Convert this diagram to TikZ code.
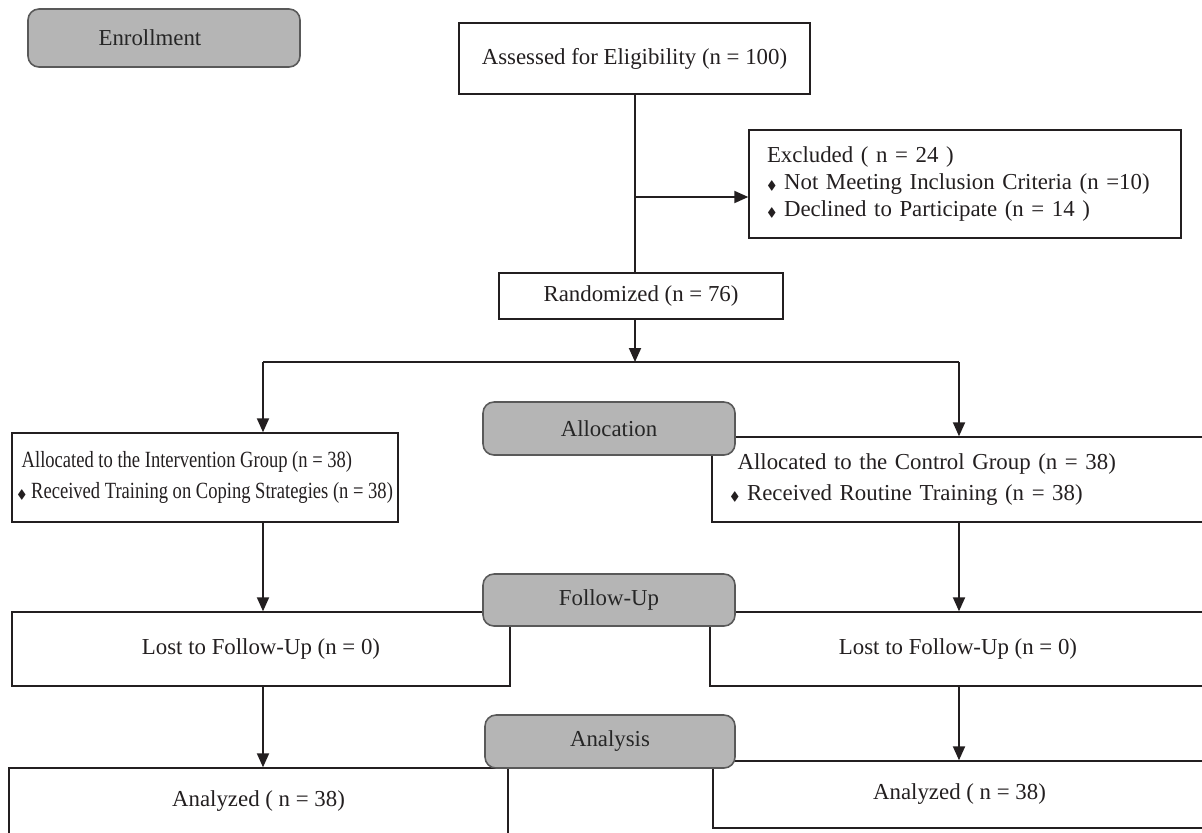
\documentclass[tikz,border=0pt]{standalone}
\usepackage{amsmath}
\usepackage{amssymb}
\usepackage{fontspec}
\setmainfont{Liberation Serif}
\newfontfamily\narrowserif[FakeStretch=0.8]{Liberation Serif}
\usepackage{tikz}
\usetikzlibrary{arrows.meta}
\definecolor{ink}{HTML}{231F20}
\definecolor{stagegray}{HTML}{B5B5B5}
\newcommand{\dia}{{\scriptsize$\blacklozenge$}\ }

\begin{document}
\begin{tikzpicture}[x=0.02cm,y=-0.02cm,
  every node/.style={font=\fontsize{13}{15.5}\selectfont,text=ink},
  sz/.style 2 args={minimum width=#1*0.02cm,minimum height=#2*0.02cm},
  box/.style={draw=ink,line width=0.8pt,fill=white,inner sep=0pt},
  lbox/.style={box,align=left,text width=#1*0.02cm,inner xsep=0.36cm},
  stage/.style={draw=black!65,line width=0.9pt,fill=stagegray,rounded corners=0.22cm,inner sep=0pt,text=black!85},
  arr/.style={draw=ink,line width=1.1pt,-{Triangle[length=0.28cm,width=0.24cm]}},
  ln/.style={draw=ink,line width=1.1pt}]
  \useasboundingbox (0,0) rectangle (1202,832);

  \node [box,sz={351}{71}] (elig) at (634.5,58.5) {Assessed for Eligibility (n = 100)};
  \node [lbox=396,minimum height=108*0.02cm] (excl) at (965,184)
    {Excluded ( n = 24 )\\ \dia Not Meeting Inclusion Criteria (n =10)\\ \dia Declined to Participate (n = 14 )};
  \node [box,sz={284}{46}] (rand) at (641,296) {Randomized (n = 76)};

  \node [box,align=left,sz={386}{89},font=\narrowserif\fontsize{13.2}{17.5}\selectfont] (ia) at (205,477.5)
    {\ Allocated to the Intervention Group (n = 38)\\ \dia Received Training on Coping Strategies (n = 38)};
  \node [lbox=457,minimum height=85*0.02cm] (ca) at (958.5,479.5)
    {\ Allocated to the Control Group (n = 38)\\[2pt] \dia Received Routine Training (n = 38)};

  \node [box,sz={498}{74}] (il) at (261,649) {Lost to Follow-Up (n = 0)};
  \node [box,sz={496}{74}] (cl) at (958,649) {Lost to Follow-Up (n = 0)};

  \node [box,sz={499}{66}] (ian) at (258.5,801) {Analyzed ( n = 38)};
  \node [box,sz={493}{67}] (can) at (959.5,794.5) {Analyzed ( n = 38)};

  \node [stage,sz={272}{58}] (enr) at (164,38) {Enrollment\kern 16pt};
  \node [stage,sz={252}{53}] (alloc) at (609,428.5) {Allocation};
  \node [stage,sz={252}{52}] (fu) at (609,600) {Follow-Up};
  \node [stage,sz={250}{53}] (an) at (610,741.5) {Analysis};

  \coordinate (x) at (635,197);
  \coordinate (s) at (635,362);
  \coordinate (sl) at (263,362);
  \coordinate (sr) at (959,362);

  \draw [ln] (elig.south -| x) -- (rand.north -| x);
  \draw [arr] (x) -- (excl.west |- x);
  \draw [arr] (rand.south -| s) -- (s);
  \draw [ln] (sl) -- (sr);
  \draw [arr] (sl) -- (sl |- ia.north);
  \draw [arr] (sr) -- (sr |- ca.north);
  \draw [arr] (ia.south -| sl) -- (il.north -| sl);
  \draw [arr] (ca.south -| sr) -- (cl.north -| sr);
  \draw [arr] (il.south -| sl) -- (ian.north -| sl);
  \draw [arr] (cl.south -| sr) -- (can.north -| sr);
\end{tikzpicture}
\end{document}
